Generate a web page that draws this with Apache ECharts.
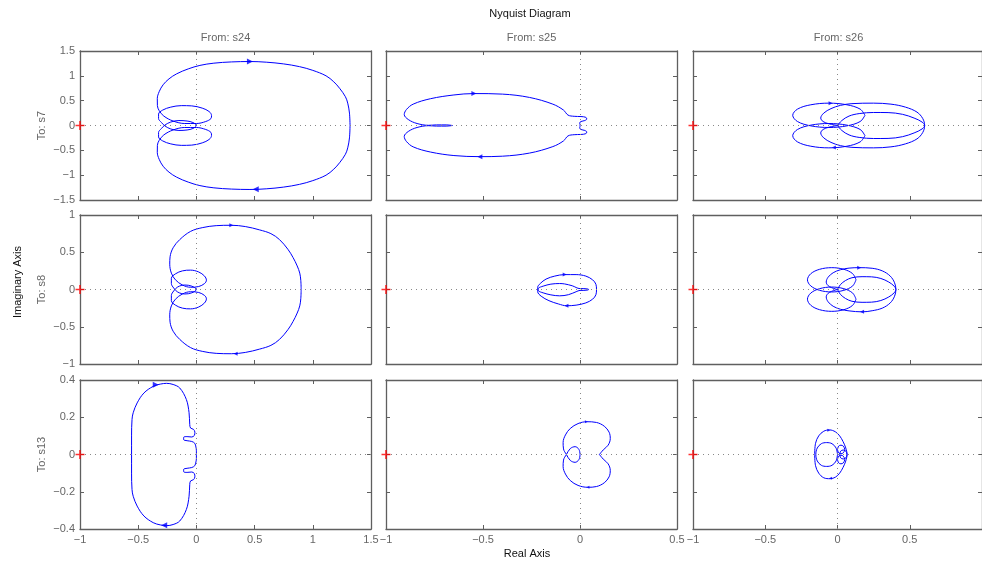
<!DOCTYPE html>
<html>
<head>
<meta charset="utf-8">
<title>Nyquist Diagram</title>
<script src="https://cdn.jsdelivr.net/npm/echarts@6/dist/echarts.min.js"></script>
<style>
html, body { margin: 0; padding: 0; background: #fff; }
#myChart { width: 982px; height: 567px; }
</style>
</head>
<body>
<div id="myChart"></div>
<script>
// 输入 / 输出名称
const inputs = ['s24', 's25', 's26'];
const outputs = ['s7', 's8', 's13'];

// 坐标范围 (列 = 输入, 行 = 输出)
const xMin = [-1, -1, -1];
const xMax = [1.5, 0.5, 1];
const xStep = [0.5, 0.5, 0.5];
const yMin = [-1.5, -1, -0.4];
const yMax = [1.5, 1, 0.4];
const yStep = [0.5, 0.5, 0.2];

// 临界点 -1
const critical = [[-1, 0]];

// ---- From s24 ----
const s7_s24 = [[1.32,0],[1.315,0.25],[1.3,0.45],[1.28,0.58],[1.23,0.75],[1.18,0.88],[1.114,1.0],[1.0,1.11],[0.886,1.185],[0.75,1.24],[0.6,1.275],[0.46,1.288],[0.3,1.28],[0.15,1.255],[0.03,1.21],[-0.07,1.14],[-0.17,1.04],[-0.235,0.94],[-0.286,0.82],[-0.32,0.68],[-0.336,0.54],[-0.335,0.4],[-0.32,0.3],[-0.28,0.19],[-0.2,0.09],[-0.1,0.04],[0,0.04],[0.08,0.08],[0.125,0.14],[0.13,0.2],[0.11,0.28],[0.05,0.35],[-0.04,0.395],[-0.13,0.4],[-0.22,0.37],[-0.29,0.31],[-0.325,0.23],[-0.325,0.14],[-0.3,0.06],[-0.27,-0.01],[-0.22,-0.07],[-0.15,-0.1],[-0.08,-0.09],[-0.03,-0.06],[0,0],
  [-0.03,0.06],[-0.08,0.09],[-0.15,0.1],[-0.22,0.07],[-0.27,0.01],[-0.3,-0.06],[-0.325,-0.14],[-0.325,-0.23],[-0.29,-0.31],[-0.22,-0.37],[-0.13,-0.4],[-0.04,-0.395],[0.05,-0.35],[0.11,-0.28],[0.13,-0.2],[0.125,-0.14],[0.08,-0.08],[0,-0.04],[-0.1,-0.04],[-0.2,-0.09],[-0.28,-0.19],[-0.32,-0.3],[-0.335,-0.4],[-0.336,-0.54],[-0.32,-0.68],[-0.286,-0.82],[-0.235,-0.94],[-0.17,-1.04],[-0.07,-1.14],[0.03,-1.21],[0.15,-1.255],[0.3,-1.28],[0.46,-1.288],[0.6,-1.275],[0.75,-1.24],[0.886,-1.185],[1.0,-1.11],[1.114,-1.0],[1.18,-0.88],[1.23,-0.75],[1.28,-0.58],[1.3,-0.45],[1.315,-0.25],[1.32,0]];
const s8_s24 = [[0.9,0],[0.897,0.12],[0.888,0.22],[0.866,0.316],[0.83,0.43],[0.786,0.54],[0.714,0.67],[0.64,0.75],[0.543,0.8],[0.42,0.845],[0.3,0.862],[0.17,0.857],[0.05,0.83],[-0.05,0.78],[-0.143,0.67],[-0.2,0.56],[-0.226,0.44],[-0.229,0.34],[-0.215,0.22],[-0.18,0.13],[-0.12,0.06],[-0.05,0.03],[0.02,0.04],[0.07,0.08],[0.086,0.125],[0.07,0.18],[0.02,0.235],[-0.05,0.26],[-0.12,0.25],[-0.18,0.21],[-0.215,0.15],[-0.215,0.08],[-0.195,0.02],[-0.16,-0.035],[-0.1,-0.06],[-0.04,-0.045],[0,0],
  [-0.04,0.045],[-0.1,0.06],[-0.16,0.035],[-0.195,-0.02],[-0.215,-0.08],[-0.215,-0.15],[-0.18,-0.21],[-0.12,-0.25],[-0.05,-0.26],[0.02,-0.235],[0.07,-0.18],[0.086,-0.125],[0.07,-0.08],[0.02,-0.04],[-0.05,-0.03],[-0.12,-0.06],[-0.18,-0.13],[-0.215,-0.22],[-0.229,-0.34],[-0.226,-0.44],[-0.2,-0.56],[-0.143,-0.67],[-0.05,-0.78],[0.05,-0.83],[0.17,-0.857],[0.3,-0.862],[0.42,-0.845],[0.543,-0.8],[0.64,-0.75],[0.714,-0.67],[0.786,-0.54],[0.83,-0.43],[0.866,-0.316],[0.888,-0.22],[0.897,-0.12],[0.9,0]];
const s13_s24 = [[0,0],[0,0.02],[-0.004,0.04],[-0.014,0.06],[-0.04,0.07],[-0.08,0.074],[-0.11,0.08],[-0.108,0.094],[-0.08,0.096],[-0.04,0.094],[-0.018,0.102],[-0.013,0.12],[-0.025,0.135],[-0.05,0.142],[-0.057,0.16],[-0.063,0.224],[-0.086,0.295],[-0.143,0.357],[-0.2,0.376],[-0.257,0.382],[-0.31,0.378],[-0.371,0.366],[-0.451,0.33],[-0.509,0.277],[-0.543,0.224],[-0.553,0.188],[-0.557,0.1],[-0.557,0],
  [-0.557,-0.1],[-0.553,-0.188],[-0.543,-0.224],[-0.509,-0.277],[-0.451,-0.33],[-0.371,-0.366],[-0.31,-0.378],[-0.257,-0.382],[-0.2,-0.376],[-0.143,-0.357],[-0.086,-0.295],[-0.063,-0.224],[-0.057,-0.16],[-0.05,-0.142],[-0.025,-0.135],[-0.013,-0.12],[-0.018,-0.102],[-0.04,-0.094],[-0.08,-0.096],[-0.108,-0.094],[-0.11,-0.08],[-0.08,-0.074],[-0.04,-0.07],[-0.014,-0.06],[-0.004,-0.04],[0,-0.02],[0,0]];

// ---- From s25 ----
const s7_s25 = [[-0.657,0],[-0.69,0.012],[-0.74,0.012],[-0.78,0.004],[-0.84,0.04],[-0.885,0.12],[-0.906,0.22],[-0.895,0.32],[-0.86,0.43],[-0.77,0.54],[-0.65,0.615],[-0.547,0.643],[-0.4,0.632],[-0.26,0.565],[-0.14,0.43],[-0.085,0.31],[-0.062,0.21],[-0.03,0.185],[0.005,0.18],[0.03,0.165],[0.035,0.13],[0.025,0.1],[0.005,0.08],[-0.002,0.05],[0,0.02],[0,0],
  [0,-0.02],[-0.002,-0.05],[0.005,-0.08],[0.025,-0.1],[0.035,-0.13],[0.03,-0.165],[0.005,-0.18],[-0.03,-0.185],[-0.062,-0.21],[-0.085,-0.31],[-0.14,-0.425],[-0.26,-0.555],[-0.4,-0.618],[-0.516,-0.627],[-0.65,-0.605],[-0.77,-0.535],[-0.86,-0.43],[-0.895,-0.32],[-0.906,-0.22],[-0.885,-0.12],[-0.84,-0.04],[-0.78,-0.004],[-0.74,-0.012],[-0.69,-0.012],[-0.657,0]];
const s8_s25 = [[0.045,0],[0.04,0.007],[0.02,0.012],[0,0.012],[-0.04,0.05],[-0.08,0.075],[-0.105,0.08],[-0.15,0.072],[-0.19,0.045],[-0.215,0.015],[-0.218,-0.03],[-0.2,-0.09],[-0.16,-0.15],[-0.11,-0.195],[-0.07,-0.218],[-0.02,-0.21],[0.03,-0.18],[0.065,-0.13],[0.082,-0.07],[0.085,0],[0.082,0.07],[0.065,0.13],[0.03,0.18],[-0.02,0.2],[-0.079,0.2],[-0.13,0.18],[-0.175,0.14],[-0.205,0.08],[-0.218,0.03],[-0.215,-0.015],[-0.19,-0.045],[-0.15,-0.072],[-0.105,-0.085],[-0.06,-0.07],[-0.02,-0.03],[0,-0.012],[0.02,-0.012],[0.04,-0.007],[0.045,0]];
const s13_s25 = [[0.1,0],[0.12,0.025],[0.145,0.05],[0.156,0.085],[0.15,0.12],[0.125,0.152],[0.085,0.172],[0.035,0.176],[-0.01,0.166],[-0.05,0.14],[-0.075,0.105],[-0.087,0.065],[-0.085,0.03],[-0.07,0],[-0.05,-0.032],[-0.025,-0.042],[-0.006,-0.028],[0,0],[-0.006,0.028],[-0.025,0.042],[-0.05,0.032],[-0.07,0],[-0.085,-0.03],[-0.087,-0.065],[-0.075,-0.105],[-0.05,-0.14],[-0.01,-0.166],[0.04,-0.176],[0.085,-0.172],[0.125,-0.152],[0.15,-0.12],[0.156,-0.085],[0.145,-0.05],[0.12,-0.025],[0.1,0]];

// ---- From s26 ----
const s7_s26_a = [[0.19,0.205],[0.157,0.33],[0.065,0.417],[-0.06,0.45],[-0.185,0.417],[-0.277,0.33],[-0.31,0.205],[-0.277,0.08],[-0.185,-0.007],[-0.06,-0.04],[0.065,-0.007],[0.157,0.08],[0.19,0.205]];
const s7_s26_b = [[0.19,-0.205],[0.157,-0.08],[0.065,0.007],[-0.06,0.04],[-0.185,0.007],[-0.277,-0.08],[-0.31,-0.205],[-0.277,-0.33],[-0.185,-0.417],[-0.06,-0.45],[0.065,-0.417],[0.157,-0.33],[0.19,-0.205]];
const s7_s26_c = [[0,0],[-0.06,0.035],[-0.1,0.08],[-0.116,0.15],[-0.095,0.25],[-0.045,0.34],[0.02,0.405],[0.1,0.44],[0.25,0.45],[0.37,0.43],[0.47,0.37],[0.55,0.27],[0.59,0.14],[0.603,0],[0.59,-0.14],[0.55,-0.27],[0.47,-0.37],[0.37,-0.43],[0.25,-0.45],[0.1,-0.44],[0.02,-0.405],[-0.045,-0.34],[-0.095,-0.25],[-0.116,-0.15],[-0.1,-0.08],[-0.06,-0.035],[0,0]];
const s7_s26_d = [[0,0],[0.03,0.1],[0.08,0.19],[0.15,0.24],[0.25,0.262],[0.35,0.26],[0.45,0.225],[0.53,0.15],[0.585,0.07],[0.603,0],[0.585,-0.07],[0.53,-0.15],[0.45,-0.225],[0.35,-0.26],[0.25,-0.262],[0.15,-0.24],[0.08,-0.19],[0.03,-0.1],[0,0]];
const s8_s26_a = [[0.128,0.13],[0.105,0.212],[0.044,0.271],[-0.04,0.293],[-0.124,0.271],[-0.185,0.212],[-0.208,0.13],[-0.185,0.048],[-0.124,-0.011],[-0.04,-0.033],[0.044,-0.011],[0.105,0.048],[0.128,0.13]];
const s8_s26_b = [[0.128,-0.13],[0.105,-0.048],[0.044,0.011],[-0.04,0.033],[-0.124,0.011],[-0.185,-0.048],[-0.208,-0.13],[-0.185,-0.212],[-0.124,-0.271],[-0.04,-0.293],[0.044,-0.271],[0.105,-0.212],[0.128,-0.13]];
const s8_s26_c = [[0,0],[-0.04,0.024],[-0.067,0.055],[-0.078,0.1],[-0.065,0.165],[-0.03,0.225],[0.02,0.265],[0.08,0.287],[0.15,0.293],[0.24,0.285],[0.31,0.25],[0.365,0.18],[0.395,0.09],[0.404,0],[0.395,-0.09],[0.365,-0.18],[0.31,-0.25],[0.24,-0.285],[0.17,-0.3],[0.08,-0.287],[0.02,-0.265],[-0.03,-0.225],[-0.065,-0.165],[-0.078,-0.1],[-0.067,-0.055],[-0.04,-0.024],[0,0]];
const s8_s26_d = [[0,0],[0.02,0.065],[0.055,0.12],[0.1,0.158],[0.17,0.172],[0.235,0.17],[0.3,0.148],[0.355,0.1],[0.392,0.045],[0.404,0],[0.392,-0.045],[0.355,-0.1],[0.3,-0.148],[0.235,-0.17],[0.17,-0.172],[0.1,-0.158],[0.055,-0.12],[0.02,-0.065],[0,0]];
const s13_s26_a = [[-0.158,0],[-0.152,0.06],[-0.13,0.1],[-0.095,0.125],[-0.055,0.132],[-0.015,0.122],[0.015,0.1],[0.038,0.07],[0.055,0.04],[0.064,0.015],[0.066,0],[0.064,-0.015],[0.055,-0.04],[0.038,-0.07],[0.015,-0.1],[-0.015,-0.122],[-0.05,-0.13],[-0.095,-0.125],[-0.13,-0.1],[-0.152,-0.06],[-0.158,0]];
const s13_s26_b = [[0,0],[-0.01,0.035],[-0.038,0.058],[-0.075,0.064],[-0.112,0.058],[-0.14,0.035],[-0.15,0],[-0.14,-0.035],[-0.112,-0.058],[-0.075,-0.064],[-0.038,-0.058],[-0.01,-0.035],[0,0]];
const s13_s26_c = [[0,0.027],[0.008,0.045],[0.024,0.05],[0.04,0.045],[0.05,0.027],[0.04,0.009],[0.024,0.004],[0.008,0.009],[0,0.027]];
const s13_s26_d = [[0,-0.027],[0.008,-0.009],[0.024,-0.004],[0.04,-0.009],[0.05,-0.027],[0.04,-0.045],[0.024,-0.05],[0.008,-0.045],[0,-0.027]];
const s13_s26_e = [[0.015,0],[0.022,0.018],[0.04,0.024],[0.058,0.018],[0.066,0],[0.058,-0.018],[0.04,-0.024],[0.022,-0.018],[0.015,0]];

// 方向箭头 (上方向右, 下方向左)
const arr_s7_s24 = [[0.46,1.288],[0.51,-1.283]];
const arr_s7_s25 = [[-0.547,0.643],[-0.516,-0.627]];
const arr_s7_s26 = [[-0.048,0.45],[-0.025,-0.445]];
const arr_s8_s24 = [[0.3,0.862],[0.337,-0.862]];
const arr_s8_s25 = [[-0.079,0.2],[-0.07,-0.218]];
const arr_s8_s26 = [[0.15,0.293],[0.17,-0.3]];
const arr_s13_s24 = [[-0.349,0.375],[-0.277,-0.38]];
const arr_s13_s25 = [[0.033,0.176],[0.041,-0.176]];
const arr_s13_s26 = [[-0.06,0.13],[-0.048,-0.128]];

const curves = [
    [s7_s24], [s7_s25], [s7_s26_a, s7_s26_b, s7_s26_c, s7_s26_d],
    [s8_s24], [s8_s25], [s8_s26_a, s8_s26_b, s8_s26_c, s8_s26_d],
    [s13_s24], [s13_s25], [s13_s26_a, s13_s26_b, s13_s26_c, s13_s26_d, s13_s26_e]
];
const arrows = [
    arr_s7_s24, arr_s7_s25, arr_s7_s26,
    arr_s8_s24, arr_s8_s25, arr_s8_s26,
    arr_s13_s24, arr_s13_s25, arr_s13_s26
];
const arrowSize = [6, 5, 4, 4, 4, 4, 6, 3, 3];

let myChart = echarts.init(document.getElementById('myChart'));

const font = '"Liberation Sans", Arial, sans-serif';
const axisColor = '#5f5f5f';
const labelColor = '#666';
const gridLeft = [80, 386, 693];
const gridTop = [51, 215, 380];
const gridW = 291;
const gridH = 149;
const minus = v => String(v).replace('-', '\u2212');

let grids = [], xAxes = [], yAxes = [], series = [];

for (let r = 0; r < 3; r++) {
    for (let c = 0; c < 3; c++) {
        const i = r * 3 + c;
        grids.push({ left: gridLeft[c], top: gridTop[r], width: gridW, height: gridH });
        ['bottom', 'top'].forEach(pos => {
            xAxes.push({
                gridIndex: i, type: 'value', position: pos,
                min: xMin[c], max: xMax[c], interval: xStep[c],
                axisLine: { show: true, onZero: false, lineStyle: { color: axisColor, width: 1.3 } },
                axisTick: { show: true, inside: true, length: 4, lineStyle: { color: axisColor } },
                axisLabel: {
                    show: pos === 'bottom' && r === 2, color: labelColor, fontSize: 11,
                    fontFamily: font, margin: 5, formatter: minus,
                    showMinLabel: true, showMaxLabel: c !== 2
                },
                splitLine: { show: false }
            });
        });
        ['left', 'right'].forEach(pos => {
            yAxes.push({
                gridIndex: i, type: 'value', position: pos,
                min: yMin[r], max: yMax[r], interval: yStep[r],
                axisLine: { show: true, onZero: false, lineStyle: { color: axisColor, width: 1.3 } },
                axisTick: { show: true, inside: true, length: 4, lineStyle: { color: axisColor } },
                axisLabel: {
                    show: pos === 'left' && c === 0, color: labelColor, fontSize: 11,
                    fontFamily: font, margin: 5, formatter: minus,
                    showMinLabel: true, showMaxLabel: true
                },
                splitLine: { show: false }
            });
        });

        curves[i].forEach((pts, k) => {
            series.push({
                type: 'line', xAxisIndex: i * 2, yAxisIndex: i * 2,
                data: pts, smooth: 0.35, showSymbol: false, silent: true,
                lineStyle: { color: '#0000ff', width: 1 },
                markLine: k === 0 ? {
                    silent: true, symbol: 'none', label: { show: false },
                    lineStyle: { color: '#888', type: [1, 4], width: 1 },
                    data: [{ xAxis: 0 }, { yAxis: 0 }]
                } : undefined
            });
        });

        // 箭头
        series.push({
            type: 'scatter', xAxisIndex: i * 2, yAxisIndex: i * 2, silent: true,
            symbol: 'triangle', symbolSize: arrowSize[i], itemStyle: { color: '#0000ff' },
            data: arrows[i].map(p => ({ value: p, symbolRotate: p[1] > 0 ? -90 : 90 }))
        });

        // -1 点
        series.push({
            type: 'scatter', xAxisIndex: i * 2, yAxisIndex: i * 2, silent: true, clip: false,
            symbol: 'path://M4.1,0H5.9V4.1H10V5.9H5.9V10H4.1V5.9H0V4.1H4.1Z',
            symbolSize: 9, itemStyle: { color: '#ff0000' }, z: 5,
            data: critical
        });
    }
}

const text = (t, x, y, color, rot) => ({
    type: 'text', x: x, y: y, rotation: rot || 0, silent: true,
    style: { text: t, fill: color, font: '11px ' + font, align: 'center', verticalAlign: 'middle' }
});

let graphic = [
    text('Nyquist Diagram', 530, 14, '#111'),
    text('Real Axis', 527, 554, '#111'),
    text('Imaginary Axis', 18, 282, '#111', Math.PI / 2)
];
inputs.forEach((s, c) => graphic.push(text('From: ' + s, gridLeft[c] + gridW / 2, 38, labelColor)));
outputs.forEach((s, r) => graphic.push(text('To: ' + s, 42, gridTop[r] + gridH / 2, labelColor, Math.PI / 2)));

let option = {
    animation: false,
    backgroundColor: '#fff',
    grid: grids,
    xAxis: xAxes,
    yAxis: yAxes,
    series: series,
    graphic: graphic
};
myChart.setOption(option);

window.addEventListener('resize', () => {
    myChart.resize();
});
</script>
</body>
</html>
